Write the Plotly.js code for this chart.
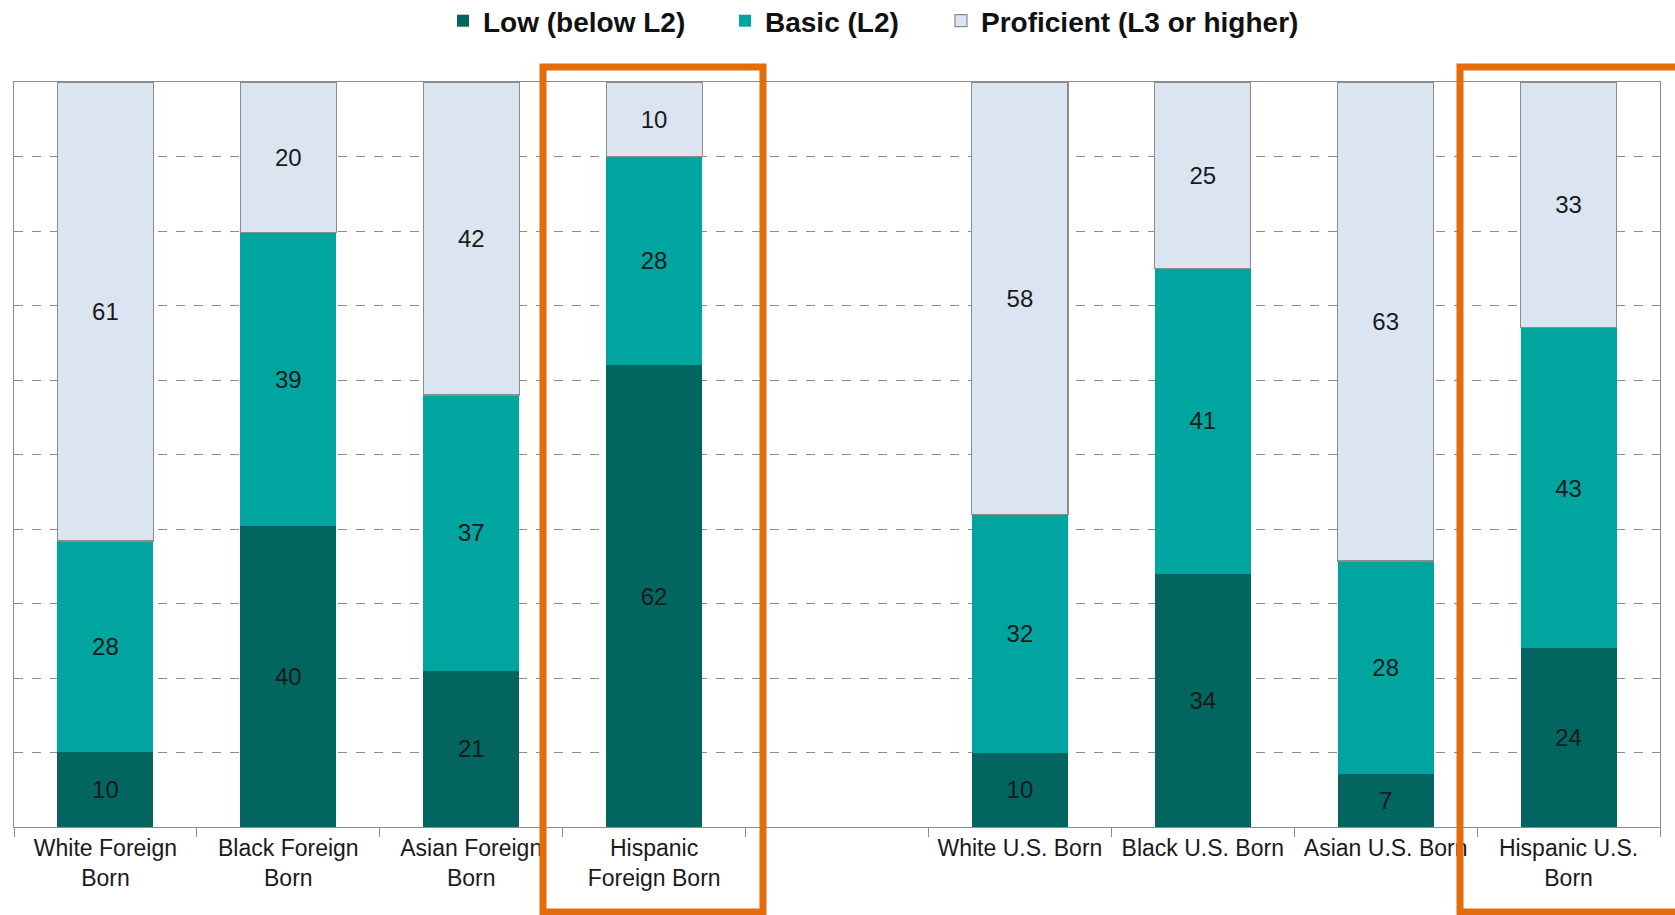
<!DOCTYPE html>
<html>
<head>
<meta charset="utf-8">
<script src="https://cdn.plot.ly/plotly-3.0.1.min.js"></script>
<style>html,body{margin:0;padding:0;background:#fff;}#chart{width:1675px;height:915px;}</style>
</head>
<body>
<div id="chart"></div>
<script>
// Categories (the blank one is the gap between the two groups)
const categories = [
  'White Foreign<br>Born', 'Black Foreign<br>Born', 'Asian Foreign<br>Born', 'Hispanic<br>Foreign Born',
  ' ',
  'White U.S. Born', 'Black U.S. Born', 'Asian U.S. Born', 'Hispanic U.S.<br>Born'
];
const seriesNames = ['Low (below L2)', 'Basic (L2)', 'Proficient (L3 or higher)'];
const lowValues        = [10, 40, 21, 62, null, 10, 34, 7, 24];
const basicValues      = [28, 39, 37, 28, null, 32, 41, 28, 43];
const proficientValues = [61, 20, 42, 10, null, 58, 25, 63, 33];

const colors = ['#03655F', '#00A59F', '#DBE5F1'];
const lineColors = ['#03655F', '#00A59F', '#8C8C8C'];
const lineWidths = [0, 0, 1.2];
const seriesValues = [lowValues, basicValues, proficientValues];
const legendIds = ['legend', 'legend2', 'legend3'];

const traces = seriesValues.map((vals, i) => ({
  type: 'bar',
  name: seriesNames[i],
  legend: legendIds[i],
  x: categories,
  y: vals,
  text: vals.map(v => v === null ? '' : String(v)),
  texttemplate: '%{text}',
  textposition: 'inside',
  insidetextanchor: 'middle',
  constraintext: 'none',
  textangle: 0,
  textfont: {family: 'Liberation Sans, Arial, sans-serif', size: 24, color: '#1a1a1a'},
  hoverinfo: 'skip',
  marker: {color: colors[i], line: {color: lineColors[i], width: lineWidths[i]}}
}));

const W = 1675, H = 915;
const L = 14, R = 15, T = 82, B = 88;
const pw = W - L - R, ph = H - T - B;
const px = x => (x - L) / pw;
const py = y => (H - B - y) / ph;

const legendFont = {family: 'Liberation Sans, Arial, sans-serif', size: 28, color: '#111', weight: 'bold'};
const mkLegend = (leftPx) => ({
  orientation: 'h',
  x: px(leftPx), xanchor: 'left',
  y: py(21), yanchor: 'middle',
  font: legendFont,
  bgcolor: 'rgba(0,0,0,0)',
  itemclick: false, itemdoubleclick: false
});

const orange = '#E46C0A';
const layout = {
  width: W, height: H,
  margin: {l: L, r: R, t: T, b: B, pad: 0, autoexpand: false},
  paper_bgcolor: '#ffffff',
  plot_bgcolor: '#ffffff',
  barmode: 'stack',
  barnorm: 'percent',
  bargap: 0.475,
  showlegend: true,
  legend: mkLegend(443),
  legend2: mkLegend(725),
  legend3: mkLegend(941),
  xaxis: {
    type: 'category',
    categoryorder: 'array',
    categoryarray: categories,
    tickson: 'boundaries',
    ticks: 'outside', ticklen: 9, tickcolor: '#8C8C8C', tickwidth: 1,
    showline: true, linecolor: '#8C8C8C', linewidth: 1.2, mirror: true,
    showgrid: false,
    tickfont: {family: 'Liberation Sans, Arial, sans-serif', size: 23, color: '#1a1a1a'},
    fixedrange: true
  },
  yaxis: {
    range: [0, 100],
    dtick: 10,
    showticklabels: false,
    showgrid: true, gridcolor: '#8C8C8C', griddash: 'dash', gridwidth: 1,
    showline: true, linecolor: '#8C8C8C', linewidth: 1.2, mirror: true,
    zeroline: false,
    fixedrange: true
  },
  shapes: [
    {type: 'rect', xref: 'paper', yref: 'paper',
     x0: px(543), x1: px(763), y0: py(912), y1: py(67),
     line: {color: orange, width: 7}, fillcolor: 'rgba(0,0,0,0)', layer: 'above'},
    {type: 'rect', xref: 'paper', yref: 'paper',
     x0: px(1460), x1: px(1700), y0: py(912), y1: py(67),
     line: {color: orange, width: 7}, fillcolor: 'rgba(0,0,0,0)', layer: 'above'}
  ]
};

Plotly.newPlot('chart', traces, layout, {displayModeBar: false, staticPlot: true});
</script>
</body>
</html>
